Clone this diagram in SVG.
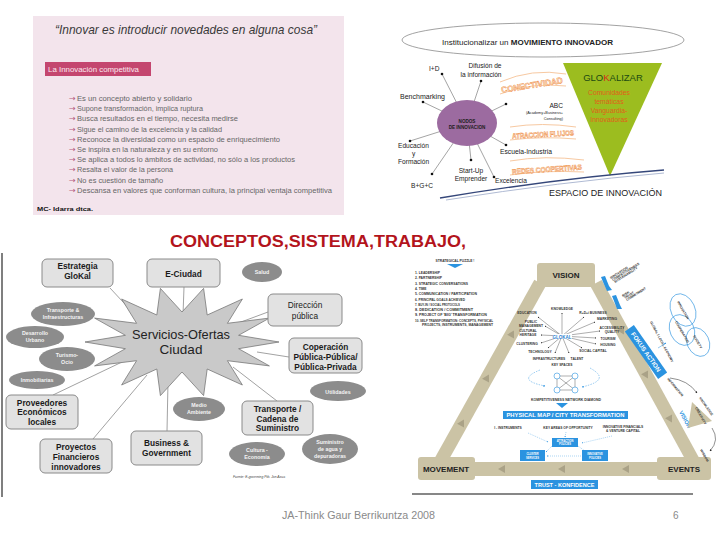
<svg xmlns="http://www.w3.org/2000/svg" width="720" height="540" viewBox="0 0 720 540">
<defs>
<style>
text{font-family:"Liberation Sans",Arial,sans-serif}
.li{font-family:"Open Sans","Liberation Sans",sans-serif;font-size:8px;fill:#666}
.ar{fill:#b55a80;font-family:"DejaVu Sans",sans-serif;font-size:8px}
.tx{fill:#666}
.lab{font-size:6.6px;fill:#222}
.orn{font-weight:bold;fill:#fde9d6;stroke:#ee8a3c;stroke-width:0.45}
.sw{fill:none;stroke:#f7c9a2;stroke-width:1}
.c1{stroke:#666;stroke-width:0.6}
.dot{fill:#111}
.box{fill:#e2e2e2;stroke:#8a8a8a;stroke-width:1}
.bt{font-weight:bold;font-size:8.3px;fill:#1a1a1a;text-anchor:middle}
.ov{fill:#8c8c8c}
.ot{font-weight:bold;font-size:5.3px;fill:#f4f4f4;text-anchor:middle}
.cn{stroke:#8a8a8a;stroke-width:0.8;fill:none}
.band{stroke:#cbc3a5;fill:none}
.kb{fill:#cbc3a5}
.kt{font-weight:bold;font-size:8px;fill:#222;text-anchor:middle}
.ka{fill:#aaa287}
.tiny{font-weight:bold;font-size:3.3px;fill:#333}
.blue{fill:#2b93e0}
.wt{font-weight:bold;fill:#fff;text-anchor:middle}
.hub{stroke:#333;stroke-width:0.4;marker-end:url(#ah)}
</style>
<marker id="ah" viewBox="0 0 6 6" refX="5" refY="3" markerWidth="4" markerHeight="4" orient="auto"><path d="M0,0 L6,3 L0,6z" fill="#222"/></marker>
<marker id="ahb" viewBox="0 0 6 6" refX="5" refY="3" markerWidth="4" markerHeight="4" orient="auto"><path d="M0,0 L6,3 L0,6z" fill="#2b93e0"/></marker>
<polygon id="tri" points="4,0 -3,-4 -3,4"/>
</defs>
<rect width="720" height="540" fill="#fff"/>

<!-- Top-left panel -->
<g id="panel-innovacion">
<rect x="33" y="16" width="311" height="199" fill="#f3e4ec"/>
<text x="55" y="34" font-family="Open Sans, Liberation Sans, sans-serif" font-style="italic" font-size="13" fill="#3a3a3a" textLength="262" lengthAdjust="spacingAndGlyphs">“Innovar es introducir novedades en alguna cosa”</text>
<rect x="45" y="62" width="106" height="14" fill="#c4466f"/>
<text x="48" y="72" font-family="Open Sans, Liberation Sans, sans-serif" font-size="7.5" fill="#fbe8ef" textLength="91" lengthAdjust="spacingAndGlyphs">La Innovación competitiva</text>
<g class="li">
<text x="69" y="101"><tspan class="ar">→</tspan><tspan class="tx" x="77" textLength="115" lengthAdjust="spacingAndGlyphs">Es un concepto abierto y solidario</tspan></text>
<text x="69" y="111.2"><tspan class="ar">→</tspan><tspan class="tx" x="77" textLength="126" lengthAdjust="spacingAndGlyphs">Supone transformación, implica ruptura</tspan></text>
<text x="69" y="121.4"><tspan class="ar">→</tspan><tspan class="tx" x="77" textLength="161" lengthAdjust="spacingAndGlyphs">Busca resultados en el tiempo, necesita medirse</tspan></text>
<text x="69" y="131.6"><tspan class="ar">→</tspan><tspan class="tx" x="77" textLength="145" lengthAdjust="spacingAndGlyphs">Sigue el camino de la excelencia y la calidad</tspan></text>
<text x="69" y="141.8"><tspan class="ar">→</tspan><tspan class="tx" x="77" textLength="203" lengthAdjust="spacingAndGlyphs">Reconoce la diversidad como un espacio de enriquecimiento</tspan></text>
<text x="69" y="152"><tspan class="ar">→</tspan><tspan class="tx" x="77" textLength="141" lengthAdjust="spacingAndGlyphs">Se inspira en la naturaleza y en su entorno</tspan></text>
<text x="69" y="162.2"><tspan class="ar">→</tspan><tspan class="tx" x="77" textLength="218" lengthAdjust="spacingAndGlyphs">Se aplica a todos lo ámbitos de actividad, no sólo a los productos</tspan></text>
<text x="69" y="172.4"><tspan class="ar">→</tspan><tspan class="tx" x="77" textLength="96" lengthAdjust="spacingAndGlyphs">Resalta el valor de la persona</tspan></text>
<text x="69" y="182.6"><tspan class="ar">→</tspan><tspan class="tx" x="77" textLength="86" lengthAdjust="spacingAndGlyphs">No es cuestión de tamaño</tspan></text>
<text x="69" y="192.8"><tspan class="ar">→</tspan><tspan class="tx" x="77" textLength="255" lengthAdjust="spacingAndGlyphs">Descansa en valores que conforman cultura, la principal ventaja competitiva</tspan></text>
</g>
<text x="37" y="211" font-size="6" font-weight="bold" fill="#111" textLength="56" lengthAdjust="spacingAndGlyphs">MC- Idarra dtca.</text>
</g>

<!-- Top-right: espacio de innovacion -->
<g id="espacio-innovacion">
<ellipse cx="543" cy="40" rx="141" ry="17" fill="#fff" stroke="#8a8a8a" stroke-width="0.8"/>
<text x="442" y="45" font-size="7.4" fill="#222" textLength="171" lengthAdjust="spacingAndGlyphs">Institucionalizar un <tspan font-weight="bold">MOVIMIENTO INNOVADOR</tspan></text>
<g id="nodos-conectores">
<line class="c1" x1="467" y1="123" x2="442" y2="74"/>
<line class="c1" x1="467" y1="123" x2="481" y2="81"/>
<line class="c1" x1="467" y1="123" x2="423" y2="102"/>
<line class="c1" x1="467" y1="123" x2="506" y2="104"/>
<line class="c1" x1="467" y1="123" x2="506" y2="145"/>
<line class="c1" x1="467" y1="123" x2="410" y2="141"/>
<line class="c1" x1="467" y1="123" x2="432" y2="174"/>
<line class="c1" x1="467" y1="123" x2="471" y2="160"/>
<line class="c1" x1="467" y1="123" x2="494" y2="177"/>
<circle class="dot" cx="442" cy="74" r="1.3"/><circle class="dot" cx="481" cy="81" r="1.3"/>
<circle class="dot" cx="423" cy="102" r="1.3"/><circle class="dot" cx="506" cy="104" r="1.3"/>
<circle class="dot" cx="506" cy="145" r="1.3"/><circle class="dot" cx="410" cy="141" r="1.3"/>
<circle class="dot" cx="432" cy="174" r="1.3"/><circle class="dot" cx="471" cy="160" r="1.3"/>
<circle class="dot" cx="494" cy="177" r="1.3"/>
</g>
<g id="nodos">
<ellipse cx="467" cy="123" rx="30" ry="23" fill="#9c6ba0"/>
<text x="467" y="123" font-size="4.6" font-weight="bold" fill="#1c1c1c" text-anchor="middle">NODOS</text>
<text x="467" y="129" font-size="4.6" font-weight="bold" fill="#1c1c1c" text-anchor="middle">DE INNOVACION</text>
</g>
<text class="lab" x="429" y="71">I+D</text>
<text class="lab" x="485" y="68" text-anchor="middle">Difusión de</text>
<text class="lab" x="481" y="77" text-anchor="middle">la información</text>
<text class="lab" x="400" y="99" textLength="45" lengthAdjust="spacingAndGlyphs">Benchmarking</text>
<text class="lab" x="563" y="108" text-anchor="end">ABC</text>
<text x="563" y="114" font-size="3.8" fill="#222" text-anchor="end">(Academy+Business+</text>
<text x="563" y="120" font-size="3.8" fill="#222" text-anchor="end">Consulting)</text>
<text class="lab" x="500" y="154" textLength="52" lengthAdjust="spacingAndGlyphs">Escuela-Industria</text>
<text class="lab" x="398" y="148">Educación</text>
<text class="lab" x="412" y="156">y</text>
<text class="lab" x="398" y="164">Formación</text>
<text class="lab" x="471" y="173" text-anchor="middle">Start-Up</text>
<text class="lab" x="471" y="181" text-anchor="middle">Emprender</text>
<text class="lab" x="495" y="183">Excelencia</text>
<text class="lab" x="411" y="188">B+G+C</text>
<g id="flujos">
<path class="sw" d="M500,82 Q532,68 566,74"/><path class="sw" d="M500,94 Q532,82 566,86"/>
<text class="orn" x="532" y="88" font-size="8.5" text-anchor="middle" transform="rotate(-9 532 85)" textLength="62" lengthAdjust="spacingAndGlyphs">CONECTIVIDAD</text>
<path class="sw" d="M510,127 Q542,122 576,127"/><path class="sw" d="M510,140 Q542,136 576,139"/>
<text class="orn" x="543" y="137" font-size="7.5" text-anchor="middle" transform="rotate(-3 543 134)" textLength="62" lengthAdjust="spacingAndGlyphs">ATRACCION FLUJOS</text>
<path class="sw" d="M510,161 Q545,155 584,160"/><path class="sw" d="M510,175 Q545,170 584,172"/>
<text class="orn" x="547" y="172" font-size="7.5" text-anchor="middle" transform="rotate(-4 547 169)" textLength="70" lengthAdjust="spacingAndGlyphs">REDES COOPERTIVAS</text>
</g>
<g id="glokalizar">
<polygon points="563,63 662,63 610,176" fill="#9cbd1f"/>
<text x="613" y="81" font-size="9.5" fill="#1d4a12" text-anchor="middle">GLO<tspan fill="#d42a1a">K</tspan>ALIZAR</text>
<g font-size="6.8" fill="#e0601a" text-anchor="middle">
<text x="609" y="95">Comunidades</text>
<text x="609" y="104">temáticas</text>
<text x="609" y="113">Vanguardia-</text>
<text x="609" y="122">Innovadoras</text>
</g>
</g>
<path d="M440,198 Q560,178 664,170" fill="none" stroke="#35477a" stroke-width="1.4"/>
<path d="M446,200 Q560,182 664,173" fill="none" stroke="#9aa8c8" stroke-width="0.8"/>
<text x="549" y="196" font-size="9.5" fill="#222" textLength="113" lengthAdjust="spacingAndGlyphs">ESPACIO DE INNOVACIÓN</text>
</g>

<!-- Title -->
<text id="titulo" x="170" y="247" font-size="16" font-weight="bold" fill="#b3141c" textLength="296" lengthAdjust="spacingAndGlyphs">CONCEPTOS,SISTEMA,TRABAJO,</text>

<!-- Bottom-left: Servicios-Ofertas Ciudad -->
<g id="servicios-ciudad">
<line x1="2" y1="253" x2="2" y2="497" stroke="#555" stroke-width="1.5"/>
<g id="conectores-ciudad" class="cn">
<line x1="110" y1="288" x2="136" y2="316"/>
<line x1="184" y1="287" x2="183" y2="315"/>
<line x1="268" y1="312" x2="233" y2="325"/>
<line x1="289" y1="357" x2="257" y2="352"/>
<line x1="277" y1="401" x2="233" y2="367"/>
<line x1="167" y1="431" x2="168" y2="382"/>
<line x1="93" y1="439" x2="147" y2="375"/>
<line x1="53" y1="395" x2="122" y2="362"/>
</g>
<g id="estrella">
<polygon points="279,342 238.6,348.7 269.4,365.9 227.4,360.7 242.4,385 207.2,369 203.6,395.6 182,372 160.4,395.6 156.8,369 121.6,385 136.6,360.7 94.6,365.9 125.4,348.7 85,342 125.4,335.3 94.6,318.1 136.6,323.3 121.6,299 156.8,315 160.4,288.4 182,312 203.6,288.4 207.2,315 242.4,299 227.4,323.3 269.4,318.1 238.6,335.3" fill="#c9c9c9" stroke="#777" stroke-width="0.8"/>
<text x="181" y="339" font-size="13.5" fill="#222" text-anchor="middle" textLength="98" lengthAdjust="spacingAndGlyphs">Servicios-Ofertas</text>
<text x="181" y="354" font-size="13.5" fill="#222" text-anchor="middle">Ciudad</text>
</g>
<g id="estrategia-glokal"><rect class="box" x="42" y="259" width="71" height="28" rx="5"/><text class="bt" x="77.5" y="269">Estrategia</text><text class="bt" x="77.5" y="279">GloKal</text></g>
<g id="e-ciudad"><rect class="box" x="147" y="259" width="73" height="28" rx="5"/><text class="bt" x="183.5" y="277">E-Ciudad</text></g>
<g id="direccion-publica"><rect class="box" x="268" y="294" width="74" height="32" rx="5"/><text x="305" y="308" font-size="8.3" fill="#1a1a1a" text-anchor="middle">Dirección</text><text x="305" y="319" font-size="8.3" fill="#1a1a1a" text-anchor="middle">pública</text></g>
<g id="cooperacion"><rect class="box" x="289" y="338" width="73" height="35" rx="5"/><text class="bt" x="325.5" y="350">Coperación</text><text class="bt" x="325.5" y="360">Pública-Pública/</text><text class="bt" x="325.5" y="369.5">Pública-Privada</text></g>
<g id="transporte-cadena"><rect class="box" x="242" y="401" width="71" height="34" rx="5"/><text class="bt" x="277.5" y="411.5">Transporte /</text><text class="bt" x="277.5" y="421.5">Cadena de</text><text class="bt" x="277.5" y="431">Suministro</text></g>
<g id="business-government"><rect class="box" x="131" y="431" width="71" height="34" rx="5"/><text class="bt" x="166.5" y="446">Business &amp;</text><text class="bt" x="166.5" y="456">Government</text></g>
<g id="proyectos-financieros"><rect class="box" x="40" y="439" width="72" height="34" rx="5"/><text class="bt" x="76" y="450">Proyectos</text><text class="bt" x="76" y="460">Financieros</text><text class="bt" x="76" y="470">innovadores</text></g>
<g id="proveedores"><rect class="box" x="6" y="395" width="72" height="34" rx="5"/><text class="bt" x="42" y="405.5">Proveedores</text><text class="bt" x="42" y="415">Económicos</text><text class="bt" x="42" y="424.5">locales</text></g>
<g id="salud"><ellipse class="ov" cx="262" cy="272" rx="20" ry="10"/><text class="ot" x="262" y="274">Salud</text></g>
<g id="transporte-infra"><ellipse class="ov" cx="63" cy="314" rx="32" ry="12"/><text class="ot" x="63" y="312">Transporte &amp;</text><text class="ot" x="63" y="319">Infraestructuras</text></g>
<g id="desarrollo-urbano"><ellipse class="ov" cx="35" cy="337" rx="29" ry="11"/><text class="ot" x="35" y="335">Desarrollo</text><text class="ot" x="35" y="342">Urbano</text></g>
<g id="turismo-ocio"><ellipse class="ov" cx="67" cy="359" rx="28" ry="12"/><text class="ot" x="67" y="357">Turismo-</text><text class="ot" x="67" y="364">Ocio</text></g>
<g id="inmobiliarias"><ellipse class="ov" cx="37" cy="380" rx="28" ry="9"/><text class="ot" x="37" y="382">Inmobiliarias</text></g>
<g id="utilidades"><ellipse class="ov" cx="338" cy="391" rx="28" ry="10"/><text class="ot" x="338" y="393.5" font-size="6">Utilidades</text></g>
<g id="medio-ambiente"><ellipse class="ov" cx="199" cy="409" rx="26" ry="12"/><text class="ot" x="199" y="407">Medio</text><text class="ot" x="199" y="414">Ambiente</text></g>
<g id="cultura-economia"><ellipse class="ov" cx="257" cy="454" rx="28" ry="12"/><text class="ot" x="257" y="452">Cultura -</text><text class="ot" x="257" y="459">Economía</text></g>
<g id="suministro-agua"><ellipse class="ov" cx="330" cy="449" rx="28" ry="15"/><text class="ot" x="330" y="444">Suministro</text><text class="ot" x="330" y="451">de agua y</text><text class="ot" x="330" y="458">depuradoras</text></g>
<text x="233" y="478" font-size="3.6" font-style="italic" fill="#444" textLength="52" lengthAdjust="spacingAndGlyphs">Fuente: E-governing Ptb. Jon Azua</text>
</g>

<!-- Bottom-right: triangle -->
<g id="triangulo">
<g id="bandas">
<line class="band" x1="540" y1="283" x2="440" y2="462" stroke-width="13"/>
<line class="band" x1="596" y1="283" x2="694" y2="462" stroke-width="13"/>
<line class="band" x1="470" y1="469" x2="660" y2="469" stroke-width="14"/>
<use href="#tri" class="ka" transform="translate(512,334) rotate(-61)"/>
<use href="#tri" class="ka" transform="translate(487,378) rotate(-61)"/>
<use href="#tri" class="ka" transform="translate(462,423) rotate(-61)"/>
<use href="#tri" class="ka" transform="translate(622,331) rotate(61)"/>
<use href="#tri" class="ka" transform="translate(646,375) rotate(61)"/>
<use href="#tri" class="ka" transform="translate(670,419) rotate(61)"/>
<use href="#tri" class="ka" transform="translate(502,469) rotate(180)"/>
<use href="#tri" class="ka" transform="translate(562,469) rotate(180)"/>
<use href="#tri" class="ka" transform="translate(626,469) rotate(180)"/>
</g>
<g id="vision"><rect class="kb" x="537" y="263" width="58" height="24" rx="3"/><text class="kt" x="566" y="278">VISION</text></g>
<g id="movement"><rect class="kb" x="418" y="457" width="57" height="23" rx="3"/><text class="kt" x="446" y="472">MOVEMENT</text></g>
<g id="events"><rect class="kb" x="657" y="457" width="54" height="23" rx="3"/><text class="kt" x="684" y="472">EVENTS</text></g>

<g id="puzzle">
<text class="tiny" x="455" y="262" text-anchor="middle" font-size="3.6">STRATEGICAL PUZZLE !</text>
<path d="M447,264 L463,264 L455,268 Z" class="blue"/>
<g class="tiny">
<text x="415" y="274">1. LEADERSHIP</text>
<text x="415" y="279.3">2. PARTNERSHIP</text>
<text x="415" y="284.6" textLength="53" lengthAdjust="spacingAndGlyphs">3. STRATEGIC CONVERSATIONS</text>
<text x="415" y="289.9">4. TIME</text>
<text x="415" y="295.2" textLength="62" lengthAdjust="spacingAndGlyphs">5. COMMUNICATION / PARTICIPATION</text>
<text x="415" y="300.5" textLength="50" lengthAdjust="spacingAndGlyphs">6. PRINCIPAL GOALS ACHIEVED</text>
<text x="415" y="305.8" textLength="45" lengthAdjust="spacingAndGlyphs">7. BUY-IN / SOCIAL PROTOCOLS</text>
<text x="415" y="311.1" textLength="58" lengthAdjust="spacingAndGlyphs">8. DEDICATION / COMMITMENT</text>
<text x="415" y="316.4" textLength="72" lengthAdjust="spacingAndGlyphs">9. PROJECT OF 'BIG' TRANSFORMATION</text>
<text x="415" y="321.7" textLength="78" lengthAdjust="spacingAndGlyphs">10. SELF TRANSFORMATION: CONCEPTS, PHYSICAL</text>
<text x="422" y="326" textLength="71" lengthAdjust="spacingAndGlyphs">PROJECTS, INSTRUMENTS, MANAGEMENT</text>
</g>
</g>

<g id="hub">
<line class="hub" x1="562" y1="336" x2="562" y2="313"/>
<line class="hub" x1="562" y1="336" x2="538" y2="317"/>
<line class="hub" x1="562" y1="336" x2="584" y2="317"/>
<line class="hub" x1="562" y1="336" x2="545" y2="326"/>
<line class="hub" x1="562" y1="336" x2="595" y2="322"/>
<line class="hub" x1="562" y1="336" x2="600" y2="331"/>
<line class="hub" x1="562" y1="336" x2="541" y2="335"/>
<line class="hub" x1="562" y1="336" x2="596" y2="338"/>
<line class="hub" x1="562" y1="336" x2="541" y2="343"/>
<line class="hub" x1="562" y1="336" x2="596" y2="344"/>
<line class="hub" x1="562" y1="336" x2="548" y2="348"/>
<line class="hub" x1="562" y1="336" x2="582" y2="348"/>
<line class="hub" x1="562" y1="336" x2="555" y2="353"/>
<line class="hub" x1="562" y1="336" x2="569" y2="353"/>
<rect x="553" y="334" width="19" height="5" fill="#fff"/>
<text x="562" y="338.5" font-size="4.5" font-weight="bold" fill="#2b7fcf" text-anchor="middle">GLOKAL</text>
<g class="tiny" text-anchor="middle" font-size="3">
<text x="562" y="310">KNOWLEDGE</text>
<text x="527" y="314">EDUCATION</text>
<text x="593" y="314">R+D+i BUSINESS</text>
<text x="531" y="323">PUBLIC</text><text x="531" y="327">MANAGEMENT</text>
<text x="607" y="320">MARKETING</text>
<text x="612" y="329">ACCESSIBILITY</text><text x="612" y="333">QUALITY</text>
<text x="528" y="332">CULTURAL</text><text x="528" y="336">HERITAGE</text>
<text x="608" y="339.5">TOURISM</text>
<text x="527" y="345">CLUSTERING</text>
<text x="608" y="346">HOUSING</text>
<text x="540" y="353">TECHNOLOGY</text>
<text x="593" y="352">SOCIAL CAPITAL</text>
<text x="549" y="360">INFRASTRUCTURES</text>
<text x="577" y="360">TALENT</text>
<text x="562" y="366">KEY SPACES</text>
</g>
</g>

<g id="diamante">
<path d="M540,370 Q515,380 545,386" fill="none" stroke="#2b93e0" stroke-width="0.5" stroke-dasharray="1.5 1.2" marker-end="url(#ahb)"/>
<path d="M590,368 Q612,380 582,387" fill="none" stroke="#2b93e0" stroke-width="0.5" stroke-dasharray="1.5 1.2" marker-end="url(#ahb)"/>
<path d="M557,376 L575,376 L575,390 L557,390 Z M557,376 L575,390 M575,376 L557,390" fill="none" stroke="#333" stroke-width="0.4"/>
<g fill="#fff" stroke="#2b93e0" stroke-width="0.6">
<circle cx="557" cy="376" r="3"/><circle cx="575" cy="376" r="3"/><circle cx="557" cy="390" r="3"/><circle cx="575" cy="390" r="3"/>
</g>
<text class="tiny" x="566" y="401" text-anchor="middle" textLength="70" lengthAdjust="spacingAndGlyphs">KOMPETITIVENESS NETWORK DIAMOND</text>
<path d="M556,403 L568,403 L562,408 Z" class="blue"/>
</g>
<g id="physical-map"><rect class="blue" x="503" y="411" width="125" height="8"/><text class="wt" x="565.5" y="417.3" font-size="5.6" textLength="118" lengthAdjust="spacingAndGlyphs">PHYSICAL MAP / CITY TRANSFORMATION</text></g>
<g class="tiny" text-anchor="middle">
<text x="508" y="429">I - INSTRUMENTS</text>
<text x="568" y="429">KEY AREAS OF OPPORTUNITY</text>
<text x="623" y="428">INNOVATIVE FINANCIALS</text>
<text x="623" y="432">&amp; VENTURE CAPITAL</text>
</g>
<g stroke="#2b93e0" stroke-width="0.4" fill="none" stroke-dasharray="1 1">
<line x1="528" y1="433" x2="548" y2="442" marker-end="url(#ahb)"/>
<line x1="566" y1="432" x2="565" y2="437" marker-end="url(#ahb)"/>
<line x1="612" y1="436" x2="582" y2="443" marker-end="url(#ahb)"/>
<line x1="552" y1="446" x2="546" y2="452" marker-end="url(#ahb)"/>
<line x1="578" y1="446" x2="585" y2="451" marker-end="url(#ahb)"/>
<line x1="581" y1="456" x2="547" y2="456" marker-end="url(#ahb)"/>
</g>
<rect class="blue" x="552" y="438" width="26" height="9"/>
<rect class="blue" x="520" y="450" width="25" height="11"/>
<rect class="blue" x="582" y="450" width="26" height="11"/>
<g class="wt" font-size="2.6">
<text x="565" y="442">ATTRACTION</text><text x="565" y="445">POLICIES</text>
<text x="532.5" y="455">CLUSTER</text><text x="532.5" y="458.5">SERVICES</text>
<text x="595" y="455">INNOVATIVE</text><text x="595" y="458.5">POLICIES</text>
</g>
<g id="trust"><rect class="blue" x="531" y="480" width="67" height="9"/><text class="wt" x="564.5" y="486.8" font-size="5.8" textLength="60" lengthAdjust="spacingAndGlyphs">TRUST - KONFIDENCE</text></g>

<g id="lado-derecho">
<polygon class="blue" points="601,277 605,276 609,286 612,290 607,291 603,282" />
<polygon class="blue" points="612,296 616,295 620,305 622,309 617,309 614,301"/>
<g class="tiny" font-size="2.6">
<text transform="translate(611,279) rotate(-32)">INNOVATION</text>
<text transform="translate(613,281) rotate(-32)">COMPETITIVENESS</text>
<text transform="translate(615,283) rotate(-32)">SUSTAINABILITY</text>
<text transform="translate(623,297) rotate(-32)">RISK</text>
<text transform="translate(625,299) rotate(-32)">TRUST</text>
<text transform="translate(627,301) rotate(-32)">COMMITMENT</text>
</g>
<g transform="translate(646,352) rotate(55)"><rect class="blue" x="-29" y="-5.5" width="58" height="11"/><text class="wt" x="0" y="2.2" font-size="6.2">FOKUS ACTION</text></g>
<text class="tiny" font-size="3" transform="translate(650,322) rotate(62)">GLOBAL / LOCAL ECONOMY</text>
<g fill="none" stroke="#2b93e0" stroke-width="0.6">
<ellipse cx="683" cy="310" rx="12" ry="17" transform="rotate(-25 683 310)"/>
<ellipse cx="682" cy="330" rx="12" ry="16" transform="rotate(-25 682 330)"/>
<ellipse cx="698" cy="342" rx="11" ry="15" transform="rotate(-25 698 342)"/>
</g>
<g class="tiny" font-size="2.8">
<text transform="translate(677,302) rotate(60)">INNOVATION</text>
<text transform="translate(675,322) rotate(60)">COOPERATION</text>
<text transform="translate(693,336) rotate(60)">SOCIETY</text>
</g>
<line x1="658" y1="348" x2="666" y2="343" stroke="#2b93e0" stroke-width="0.5" marker-end="url(#ahb)"/>
<text x="0" y="0" font-size="5.5" font-weight="bold" fill="#2b93e0" transform="translate(679,412) rotate(62)">VISION</text>
<polygon class="kb" points="692,402 712,421 688,428"/>
<path d="M670,378 Q688,380 697,393" fill="none" stroke="#222" stroke-width="0.5" marker-end="url(#ah)"/>
<path d="M712,428 Q720,440 710,451" fill="none" stroke="#222" stroke-width="0.5" marker-end="url(#ah)"/>
<g class="tiny" font-size="2.8">
<text transform="translate(667,379) rotate(50)">INFORMATION</text>
<text transform="translate(699,398) rotate(55)">KNOWLEDGE</text>
<text transform="translate(695,408) rotate(60)">CREATIVITY</text>
<text transform="translate(700,450) rotate(60)">WISDOM</text>
</g>
</g>
<line x1="412" y1="494" x2="693" y2="494" stroke="#111" stroke-width="1.2"/>
</g>

<!-- Footer -->
<g id="pie">
<text x="282" y="519" font-family="Open Sans, Liberation Sans, sans-serif" font-size="10" fill="#8a8a8a" textLength="153" lengthAdjust="spacingAndGlyphs">JA-Think Gaur Berrikuntza 2008</text>
<text x="673" y="519" font-family="Open Sans, Liberation Sans, sans-serif" font-size="10" fill="#8a8a8a">6</text>
</g>
</svg>
